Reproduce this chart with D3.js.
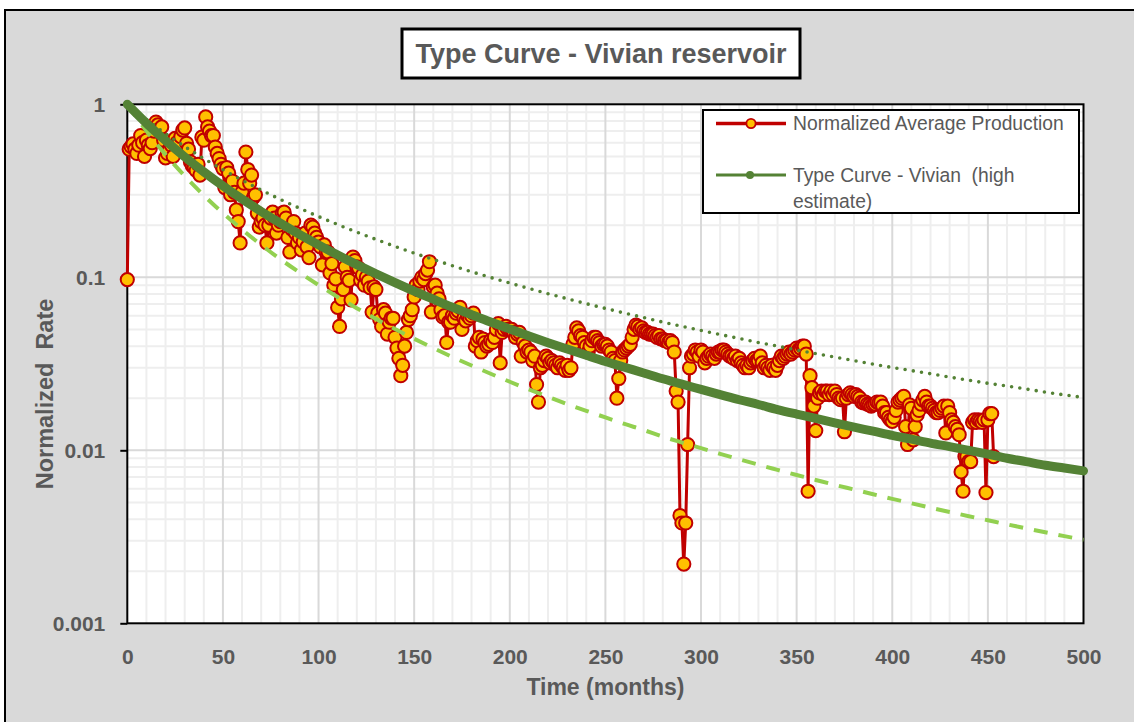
<!DOCTYPE html>
<html>
<head>
<meta charset="utf-8">
<script src="https://cdn.jsdelivr.net/npm/d3@7"></script>
<style>
  html, body { margin: 0; padding: 0; background: #ffffff; }
  svg { display: block; }
</style>
</head>
<body>
<svg id="chart" width="1134" height="722"></svg>
<script>
// ---------------- data ----------------
// Normalized average production, one value per month starting at month 0
const rate = [
  0.097, 0.55, 0.57, 0.59, 0.55, 0.52, 0.58, 0.66, 0.60, 0.50,
  0.62, 0.58, 0.555, 0.60, 0.70, 0.79, 0.76, 0.72, 0.74, 0.62,
  0.49, 0.52, 0.55, 0.58, 0.50, 0.635, 0.60, 0.595, 0.65, 0.71,
  0.73, 0.595, 0.55, 0.465, 0.44, 0.43, 0.415, 0.45, 0.39, 0.646,
  0.62, 0.845, 0.74, 0.70, 0.66, 0.66, 0.566, 0.52, 0.486, 0.45,
  0.425, 0.33, 0.43, 0.40, 0.30, 0.36, 0.31, 0.245, 0.21, 0.158,
  0.31, 0.35, 0.53, 0.42, 0.35, 0.39, 0.29, 0.30, 0.235, 0.195,
  0.21, 0.22, 0.20, 0.158, 0.20, 0.22, 0.238, 0.22, 0.18, 0.20,
  0.21, 0.235, 0.238, 0.22, 0.17, 0.14, 0.19, 0.21, 0.18, 0.158,
  0.17, 0.144, 0.16, 0.18, 0.15, 0.13, 0.20, 0.195, 0.18, 0.17,
  0.16, 0.15, 0.118, 0.154, 0.14, 0.14, 0.106, 0.12, 0.09, 0.098,
  0.067, 0.052, 0.075, 0.085, 0.115, 0.10, 0.096, 0.074, 0.131, 0.125,
  0.115, 0.113, 0.096, 0.103, 0.09, 0.10, 0.095, 0.087, 0.063, 0.088,
  0.085, 0.062, 0.057, 0.052, 0.065, 0.062, 0.047, 0.055, 0.058, 0.058,
  0.045, 0.039, 0.034, 0.027, 0.031, 0.040, 0.048, 0.057, 0.060, 0.065,
  0.077, 0.090, 0.085, 0.095, 0.100, 0.097, 0.105, 0.110, 0.123, 0.063,
  0.088, 0.090, 0.081, 0.075, 0.065, 0.059, 0.060, 0.042, 0.055, 0.055,
  0.060, 0.058, 0.062, 0.064, 0.067, 0.050, 0.058, 0.056, 0.060, 0.058,
  0.060, 0.062, 0.040, 0.043, 0.045, 0.037, 0.044, 0.042, 0.040, 0.041,
  0.043, 0.042, 0.045, 0.050, 0.054, 0.032, 0.048, 0.050, 0.052, 0.050,
  0.050, 0.050, 0.048, 0.045, 0.047, 0.048, 0.035, 0.042, 0.040, 0.037,
  0.038, 0.037, 0.033, 0.035, 0.024, 0.019, 0.030, 0.031, 0.033, 0.035,
  0.034, 0.032, 0.033, 0.032, 0.031, 0.030, 0.032, 0.031, 0.030, 0.029,
  0.031, 0.029, 0.030, 0.041, 0.045, 0.051, 0.049, 0.046, 0.045, 0.042,
  0.040, 0.037, 0.040, 0.043, 0.045, 0.045, 0.043, 0.042, 0.040, 0.041,
  0.041, 0.040, 0.038, 0.037, 0.034, 0.033, 0.020, 0.026, 0.033, 0.037,
  0.038, 0.039, 0.040, 0.041, 0.045, 0.050, 0.053, 0.052, 0.050, 0.051,
  0.049, 0.048, 0.048, 0.047, 0.047, 0.047, 0.046, 0.045, 0.046, 0.044,
  0.044, 0.043, 0.043, 0.042, 0.043, 0.042, 0.037, 0.022, 0.019, 0.0042,
  0.0038, 0.0022, 0.0038, 0.0108, 0.030, 0.035, 0.036, 0.038, 0.037, 0.035,
  0.038, 0.037, 0.032, 0.034, 0.035, 0.036, 0.035, 0.034, 0.036, 0.037,
  0.037, 0.038, 0.038, 0.037, 0.036, 0.035, 0.035, 0.034, 0.035, 0.033,
  0.034, 0.032, 0.031, 0.030, 0.031, 0.030, 0.032, 0.033, 0.034, 0.033,
  0.033, 0.035, 0.032, 0.030, 0.031, 0.030, 0.029, 0.031, 0.030, 0.029,
  0.031, 0.033, 0.035, 0.034, 0.035, 0.036, 0.037, 0.036, 0.037, 0.038,
  0.039, 0.038, 0.039, 0.040, 0.040, 0.036, 0.0058, 0.027, 0.023, 0.018,
  0.013, 0.020, 0.0215, 0.022, 0.021, 0.022, 0.022, 0.021, 0.022, 0.021,
  0.022, 0.021, 0.020, 0.0196, 0.020, 0.0128, 0.020, 0.021, 0.0215, 0.021,
  0.0205, 0.021, 0.0205, 0.020, 0.019, 0.0188, 0.019, 0.0185, 0.0183, 0.018,
  0.0183, 0.0185, 0.019, 0.0188, 0.019, 0.018, 0.0165, 0.0165, 0.0155, 0.015,
  0.0147, 0.0155, 0.017, 0.019, 0.0195, 0.020, 0.0205, 0.0137, 0.0108, 0.0183,
  0.0175, 0.0115, 0.0137, 0.016, 0.017, 0.0185, 0.0195, 0.0205, 0.019, 0.018,
  0.018, 0.0175, 0.017, 0.0165, 0.0165, 0.017, 0.0175, 0.018, 0.0126, 0.018,
  0.0165, 0.015, 0.0145, 0.0137, 0.0132, 0.0123, 0.0075, 0.0058, 0.0092, 0.0092,
  0.0086, 0.0086, 0.0145, 0.015, 0.0145, 0.015, 0.0148, 0.0145, 0.015, 0.0057,
  0.015, 0.0163, 0.0163, 0.0092
];

// Months at which the decline curves are tabulated
const curveMonths = [
  0, 10, 20, 30, 40, 50, 60, 70, 80, 90,
  100, 110, 120, 130, 140, 150, 160, 170, 180, 190,
  200, 210, 220, 230, 240, 250, 260, 270, 280, 290,
  300, 310, 320, 330, 340, 350, 360, 370, 380, 390,
  400, 410, 420, 430, 440, 450, 460, 470, 480, 490, 500
];

// Type curve - Vivian (high estimate)
const typeCurve = [
  1, 0.7767, 0.6157, 0.4967, 0.4068, 0.3375, 0.2833, 0.2402, 0.2055, 0.1772,
  0.1540, 0.1346, 0.1184, 0.1048, 0.0932, 0.0832, 0.0747, 0.0672, 0.0608, 0.0551,
  0.0502, 0.0458, 0.0419, 0.0385, 0.0354, 0.0326, 0.0302, 0.0280, 0.0259, 0.0241,
  0.0225, 0.0210, 0.0196, 0.0184, 0.0172, 0.0162, 0.0153, 0.0144, 0.0136, 0.0129,
  0.0122, 0.0116, 0.0110, 0.0105, 0.0100, 0.0095, 0.0090, 0.0086, 0.0082, 0.0079, 0.0076
];

// Upper bound curve (dotted)
const upperCurve = [
  1, 0.8160, 0.6773, 0.5703, 0.4862, 0.4189, 0.3644, 0.3195, 0.2823, 0.2510,
  0.2245, 0.2019, 0.1824, 0.1656, 0.1509, 0.1380, 0.1267, 0.1167, 0.1077, 0.0998,
  0.0926, 0.0862, 0.0804, 0.0752, 0.0704, 0.0661, 0.0621, 0.0585, 0.0551, 0.0521,
  0.0493, 0.0467, 0.0443, 0.0420, 0.0400, 0.0380, 0.0362, 0.0346, 0.0330, 0.0315,
  0.0301, 0.0289, 0.0277, 0.0265, 0.0254, 0.0244, 0.0235, 0.0226, 0.0217, 0.0209, 0.0202
];

// Lower bound curve (dashed)
const lowerCurve = [
  1, 0.7016, 0.5118, 0.3854, 0.2976, 0.2349, 0.1888, 0.1540, 0.1274, 0.1067,
  0.0902, 0.0770, 0.0663, 0.0575, 0.0502, 0.0441, 0.0390, 0.0346, 0.0309, 0.0277,
  0.0249, 0.0225, 0.0204, 0.0185, 0.0169, 0.0155, 0.0142, 0.0131, 0.0120, 0.0111,
  0.0103, 0.00954, 0.00887, 0.00826, 0.00771, 0.00720, 0.00674, 0.00631, 0.00593, 0.00557,
  0.00524, 0.00494, 0.00466, 0.00440, 0.00416, 0.00394, 0.00373, 0.00354, 0.00336, 0.00319, 0.00304
];

const xTicks = [0, 50, 100, 150, 200, 250, 300, 350, 400, 450, 500];
const yTicks = [1, 0.1, 0.01, 0.001];
const yTickLabels = ["1", "0.1", "0.01", "0.001"];

const chartTitle = "Type Curve - Vivian reservoir";
const xTitle = "Time (months)";
const yTitle = "Normalized  Rate";
const seriesNames = ["Normalized Average Production", "Type Curve - Vivian  (high", "estimate)"];

// ---------------- layout ----------------
const W = 1134, H = 722;
const plot = { left: 127.3, right: 1083.5, top: 104.3, bottom: 623.3 };
const FONT = "'Liberation Sans', Arial, sans-serif";
const TEXT_GRAY = "#595959";

const svg = d3.select("#chart");

const x = d3.scaleLinear().domain([0, 500]).range([plot.left, plot.right]);
const y = d3.scaleLog().domain([0.001, 1]).range([plot.bottom, plot.top]);

// chart area
svg.append("rect").attr("width", W).attr("height", H).attr("fill", "#ffffff");
svg.append("rect")
  .attr("x", 5).attr("y", 10).attr("width", W + 20).attr("height", H + 20)
  .attr("fill", "#d9d9d9").attr("stroke", "#000").attr("stroke-width", 2);

// plot area
svg.append("rect")
  .attr("x", plot.left).attr("y", plot.top)
  .attr("width", plot.right - plot.left).attr("height", plot.bottom - plot.top)
  .attr("fill", "#ffffff");

// gridlines
const grid = svg.append("g");
const minorX = d3.range(10, 500, 10).filter(v => v % 50 !== 0);
const majorX = d3.range(50, 500, 50);
const minorY = [];
[0.001, 0.01, 0.1].forEach(dec => { for (let k = 2; k <= 9; k++) minorY.push(dec * k); });
const majorY = [0.01, 0.1];

grid.selectAll(".mx").data(minorX).join("line")
  .attr("x1", d => x(d)).attr("x2", d => x(d))
  .attr("y1", plot.top).attr("y2", plot.bottom)
  .attr("stroke", "#eeeeee").attr("stroke-width", 2);
grid.selectAll(".my").data(minorY).join("line")
  .attr("y1", d => y(d)).attr("y2", d => y(d))
  .attr("x1", plot.left).attr("x2", plot.right)
  .attr("stroke", "#eeeeee").attr("stroke-width", 2);
grid.selectAll(".Mx").data(majorX).join("line")
  .attr("x1", d => x(d)).attr("x2", d => x(d))
  .attr("y1", plot.top).attr("y2", plot.bottom)
  .attr("stroke", "#d9d9d9").attr("stroke-width", 2);
grid.selectAll(".My").data(majorY).join("line")
  .attr("y1", d => y(d)).attr("y2", d => y(d))
  .attr("x1", plot.left).attr("x2", plot.right)
  .attr("stroke", "#d9d9d9").attr("stroke-width", 2);

// plot border
svg.append("rect")
  .attr("x", plot.left).attr("y", plot.top)
  .attr("width", plot.right - plot.left).attr("height", plot.bottom - plot.top)
  .attr("fill", "none").attr("stroke", "#000").attr("stroke-width", 2);

// axes
const yAxis = d3.axisLeft(y).tickValues(yTicks)
  .tickFormat((d, i) => yTickLabels[i]).tickSize(7).tickPadding(15);
const gy = svg.append("g").attr("transform", `translate(${plot.left},0)`).call(yAxis);
gy.select(".domain").remove();
gy.selectAll(".tick line").attr("stroke", "#000").attr("stroke-width", 2);
gy.selectAll(".tick text")
  .attr("font-family", FONT).attr("font-size", 21).attr("font-weight", "bold")
  .attr("fill", TEXT_GRAY);

const xAxis = d3.axisBottom(x).tickValues(xTicks).tickSize(0).tickPadding(0);
const gx = svg.append("g").attr("transform", `translate(0,${plot.bottom})`).call(xAxis);
gx.select(".domain").remove();
gx.selectAll(".tick text")
  .attr("y", 33).attr("dy", "0.35em")
  .attr("font-family", FONT).attr("font-size", 21).attr("font-weight", "bold")
  .attr("fill", TEXT_GRAY);

// axis titles
svg.append("text")
  .attr("x", (plot.left + plot.right) / 2).attr("y", 687)
  .attr("text-anchor", "middle").attr("dominant-baseline", "central")
  .attr("font-family", FONT).attr("font-size", 23).attr("font-weight", "bold")
  .attr("fill", TEXT_GRAY).text(xTitle);
svg.append("text")
  .attr("transform", "translate(45,394) rotate(-90)")
  .attr("text-anchor", "middle").attr("dominant-baseline", "central")
  .style("white-space", "pre")
  .attr("font-family", FONT).attr("font-size", 23.5).attr("font-weight", "bold")
  .attr("fill", TEXT_GRAY).text(yTitle);

// production series
const prod = rate.map((v, i) => ({ t: i, q: v }));
const prodLine = d3.line().x(d => x(d.t)).y(d => y(d.q));
svg.append("path").datum(prod)
  .attr("d", prodLine).attr("fill", "none")
  .attr("stroke", "#c00000").attr("stroke-width", 3).attr("stroke-linejoin", "round");
svg.append("g").selectAll("circle").data(prod).join("circle")
  .attr("cx", d => x(d.t)).attr("cy", d => y(d.q)).attr("r", 6.6)
  .attr("fill", "#ffc000").attr("stroke", "#c00000").attr("stroke-width", 2);

// decline curves
const curveLine = d3.line().x(d => x(d.t)).y(d => y(d.q)).curve(d3.curveMonotoneX);
const toPts = arr => arr.map((v, i) => ({ t: curveMonths[i], q: v }));

svg.append("path").datum(toPts(lowerCurve))
  .attr("d", curveLine).attr("fill", "none")
  .attr("stroke", "#92d050").attr("stroke-width", 4).attr("stroke-dasharray", "14 11");
svg.append("path").datum(toPts(upperCurve))
  .attr("d", curveLine).attr("fill", "none")
  .attr("stroke", "#548235").attr("stroke-width", 3.6)
  .attr("stroke-linecap", "round").attr("stroke-dasharray", "0 8.3");
svg.append("path").datum(toPts(typeCurve))
  .attr("d", curveLine).attr("fill", "none")
  .attr("stroke", "#548235").attr("stroke-width", 9)
  .attr("stroke-linecap", "round").attr("stroke-linejoin", "round");

// title
svg.append("rect")
  .attr("x", 402).attr("y", 29).attr("width", 398).attr("height", 49)
  .attr("fill", "#ffffff").attr("stroke", "#000").attr("stroke-width", 3);
svg.append("text")
  .attr("x", 601).attr("y", 54)
  .attr("text-anchor", "middle").attr("dominant-baseline", "central")
  .attr("font-family", FONT).attr("font-size", 27).attr("font-weight", "bold")
  .attr("fill", TEXT_GRAY).text(chartTitle);

// legend
const lg = svg.append("g");
lg.append("rect")
  .attr("x", 703).attr("y", 110).attr("width", 376).attr("height", 103)
  .attr("fill", "#ffffff").attr("stroke", "#000").attr("stroke-width", 2);
lg.append("line").attr("x1", 716).attr("x2", 786).attr("y1", 123.5).attr("y2", 123.5)
  .attr("stroke", "#c00000").attr("stroke-width", 3.3);
lg.append("circle").attr("cx", 751).attr("cy", 123.5).attr("r", 4.6)
  .attr("fill", "#ffc000").attr("stroke", "#c00000").attr("stroke-width", 1.8);
lg.append("line").attr("x1", 716).attr("x2", 786).attr("y1", 175).attr("y2", 175)
  .attr("stroke", "#548235").attr("stroke-width", 2.8);
lg.append("circle").attr("cx", 750).attr("cy", 175).attr("r", 4)
  .attr("fill", "#548235");
const legendY = [123.5, 175, 201.5];
lg.selectAll("text.lbl").data(seriesNames).join("text")
  .attr("class", "lbl")
  .attr("x", 793).attr("y", (d, i) => legendY[i])
  .attr("dominant-baseline", "central")
  .style("white-space", "pre")
  .attr("font-family", FONT).attr("font-size", 19.3)
  .attr("fill", TEXT_GRAY).text(d => d);
</script>
</body>
</html>
